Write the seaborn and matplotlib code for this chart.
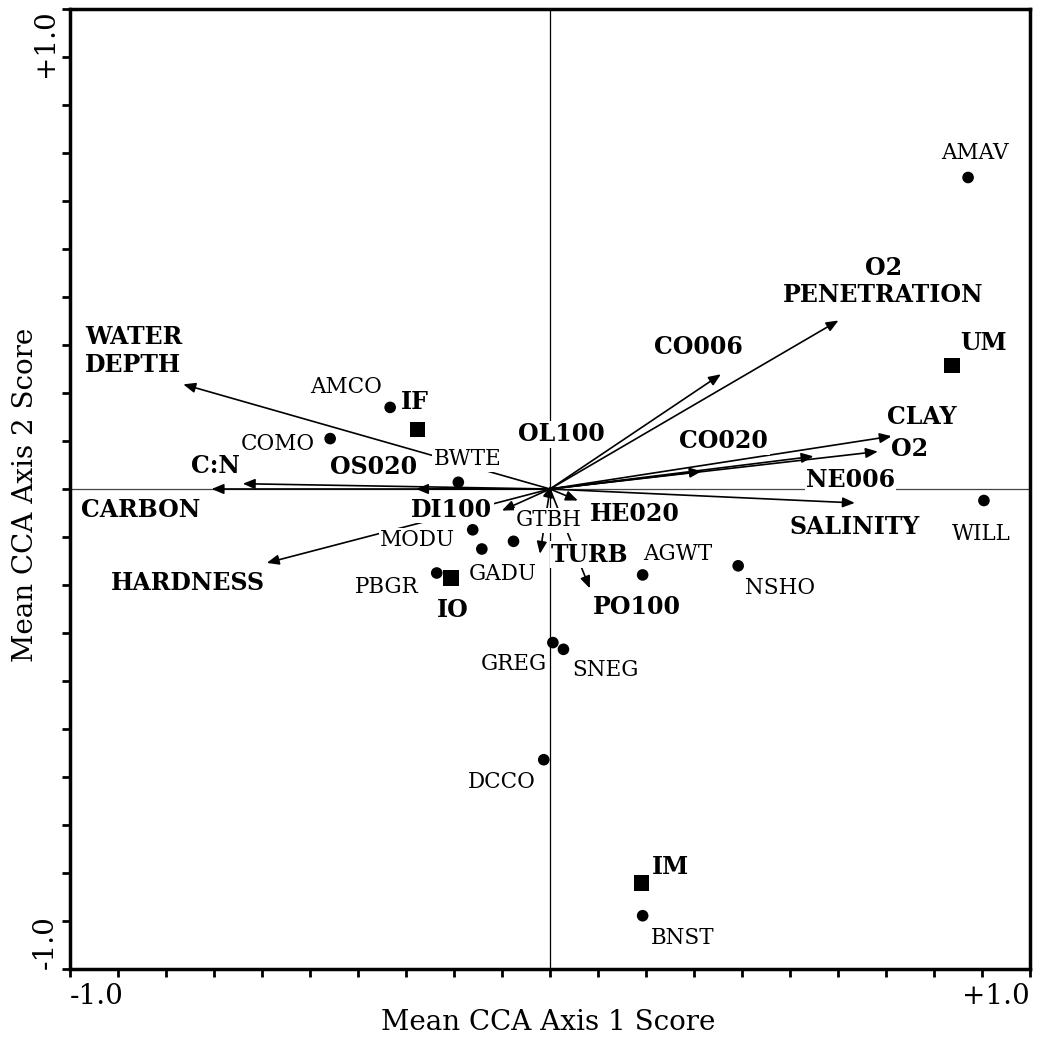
import matplotlib
matplotlib.use("Agg")
import matplotlib.pyplot as plt
from matplotlib.ticker import MultipleLocator
import pandas as pd
import seaborn as sns

# Species scores (mean CCA axis 1 / axis 2)
species = ["AMAV", "AMCO", "COMO", "BWTE", "MODU", "GADU", "GTBH", "PBGR",
           "AGWT", "NSHO", "WILL", "GREG", "SNEG", "DCCO", "BNST"]
species_x = [0.871, -0.333, -0.458, -0.191, -0.161, -0.142, -0.076, -0.236,
             0.193, 0.392, 0.904, 0.006, 0.028, -0.013, 0.193]
species_y = [0.649, 0.170, 0.105, 0.014, -0.085, -0.125, -0.109, -0.175,
             -0.179, -0.160, -0.024, -0.320, -0.334, -0.564, -0.889]

# Site-group centroids
sites = ["IF", "IO", "UM", "IM"]
site_x = [-0.276, -0.206, 0.838, 0.191]
site_y = [0.124, -0.185, 0.257, -0.821]

# Environmental variable biplot vectors
env = ["WATER\nDEPTH", "C:N", "CARBON", "OS020", "HARDNESS", "DI100", "TURB",
       "PO100", "HE020", "OL100", "CO006", "O2\nPENETRATION", "CLAY", "O2",
       "CO020", "NE006", "SALINITY"]
env_x = [-0.764, -0.640, -0.705, -0.279, -0.590, -0.100, -0.021,
         0.083, 0.058, 0.002, 0.356, 0.601, 0.712, 0.683,
         0.316, 0.549, 0.635]
env_y = [0.218, 0.011, 0.000, 0.000, -0.154, -0.045, -0.135,
         -0.207, -0.024, 0.008, 0.239, 0.351, 0.110, 0.078,
         0.037, 0.068, -0.029]

# Label placement (offset in pixels from each mark)
species_offsets = {
    "AMAV": (7, 24), "AMCO": (-44, 20), "COMO": (-52, -5), "BWTE": (9, 23),
    "MODU": (-55, -10), "GADU": (21, -25), "GTBH": (35, 21), "PBGR": (-50, -14),
    "AGWT": (35, 21), "NSHO": (42, -22), "WILL": (-3, -33), "GREG": (-39, -21),
    "SNEG": (42, -21), "DCCO": (-42, -22), "BNST": (40, -22),
}
site_offsets = {"IF": (-3, 27), "IO": (2, -32), "UM": (31, 23), "IM": (29, 16)}
env_offsets = {
    "WATER\nDEPTH": (-98, 33), "C:N": (-27, 18), "CARBON": (-71, -21),
    "OS020": (-43, 22), "HARDNESS": (-79, -20), "DI100": (-50, 1),
    "TURB": (50, -1), "PO100": (47, -19), "HE020": (57, -13),
    "OL100": (10, 51), "CO006": (-22, 27), "O2\nPENETRATION": (45, 39),
    "CLAY": (30, 19), "O2": (32, 3), "CO020": (22, 30), "NE006": (37, -24),
    "SALINITY": (0, -24),
}

sns.set_theme(style="white")
plt.rcParams["font.family"] = ["DejaVu Serif"]
plt.rcParams["mathtext.default"] = "regular"

fig = plt.figure(figsize=(10.37, 10.41), dpi=100)
W, H = 1037, 1041
ax = fig.add_axes([70 / W, 1 - 969 / H, 960 / W, 960 / H])
ax.set_xlim(-1, 1)
ax.set_ylim(-1, 1)

# Origin cross-hairs
ax.axhline(0, color="#444444", lw=0.9, zorder=1)
ax.axvline(0, color="black", lw=0.9, zorder=1)

# Environmental arrows from the origin
for name, x, y in zip(env, env_x, env_y):
    ax.annotate("", xy=(x, y), xytext=(0, 0),
                arrowprops=dict(arrowstyle="-|>,head_length=7.2,head_width=3.0",
                                mutation_scale=1, lw=1.2, color="black",
                                shrinkA=0, shrinkB=0),
                zorder=2)

txt_box = dict(facecolor="white", edgecolor="none", pad=1.0)

for name, x, y in zip(env, env_x, env_y):
    dx, dy = env_offsets[name]
    ha = "left" if name == "WATER\nDEPTH" else "center"
    ax.annotate(name, xy=(x, y), xytext=(dx, dy), textcoords="offset pixels",
                ha=ha, va="center", multialignment=ha,
                fontsize=17, fontweight="bold", color="black",
                bbox=txt_box, zorder=3, linespacing=1.2)

for name, x, y in zip(species, species_x, species_y):
    dx, dy = species_offsets[name]
    ax.annotate(name, xy=(x, y), xytext=(dx, dy), textcoords="offset pixels",
                ha="center", va="center", fontsize=15.5, color="black",
                bbox=txt_box, zorder=3)

for name, x, y in zip(sites, site_x, site_y):
    dx, dy = site_offsets[name]
    ax.annotate(name, xy=(x, y), xytext=(dx, dy), textcoords="offset pixels",
                ha="center", va="center", fontsize=17, fontweight="bold",
                color="black", bbox=txt_box, zorder=3)

species_df = pd.DataFrame({"x": species_x, "y": species_y, "label": species})
site_df = pd.DataFrame({"x": site_x, "y": site_y, "label": sites})

sns.scatterplot(data=species_df, x="x", y="y", marker="o", s=70,
                color="black", edgecolor="none", linewidth=0, ax=ax, zorder=4)
sns.scatterplot(data=site_df, x="x", y="y", marker="s", s=125,
                color="black", edgecolor="none", linewidth=0, ax=ax, zorder=4)

# Frame and ticks
for sp in ax.spines.values():
    sp.set_visible(True)
    sp.set_color("black")
    sp.set_linewidth(2.5)

ax.set_xticks([-1, 1], ["-1.0", "+1.0"])
ax.set_yticks([-1, 1], ["-1.0", "+1.0"])
ax.xaxis.set_minor_locator(MultipleLocator(0.1))
ax.yaxis.set_minor_locator(MultipleLocator(0.1))
ax.tick_params(which="both", direction="out", length=6, width=2,
               color="black", bottom=True, left=True, top=False, right=False)
ax.tick_params(axis="x", which="major", labelsize=20, pad=4, labelcolor="black")
ax.tick_params(axis="y", which="major", labelsize=20, pad=2, labelcolor="black",
               labelrotation=90)

xl = ax.get_xticklabels()
xl[0].set_ha("left")
xl[1].set_ha("right")
yl = ax.get_yticklabels()
yl[0].set_va("bottom")
yl[1].set_va("top")

ax.set_xlabel("Mean CCA Axis 1 Score", fontsize=20, color="black")
ax.set_ylabel("Mean CCA Axis 2 Score", fontsize=20, color="black")
ax.xaxis.set_label_coords(0.498, -0.0417)
ax.yaxis.set_label_coords(-0.0323, 0.494)

fig.savefig("out.png", dpi=100, facecolor="white")
